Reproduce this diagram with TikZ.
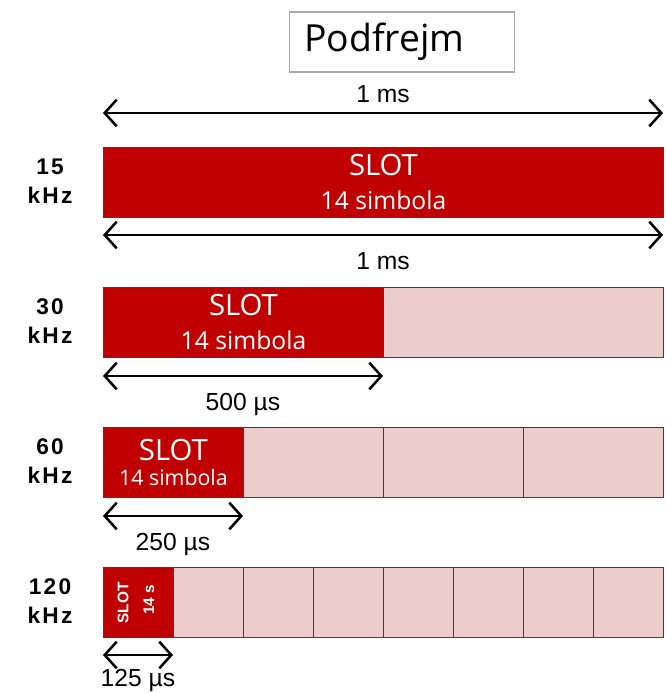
\documentclass[tikz,border=0pt]{standalone}
\usepackage{fontspec}
\setmainfont{Liberation Sans}
\newfontfamily\slotfont{Open Sans}
\usetikzlibrary{arrows.meta}
\definecolor{slot_red}{RGB}{192,0,0}
\definecolor{cell_pink}{RGB}{237,204,204}
\definecolor{frame_gray}{RGB}{170,170,170}

\tikzset{
    slotbox/.style={draw=black!75, fill=slot_red, line width=0.7pt, anchor=north west,
        inner sep=0pt, minimum height=52.5pt, text=white, align=center},
    cellbox/.style={draw=black!75, fill=cell_pink, line width=0.7pt, anchor=north west,
        inner sep=0pt, minimum height=52.5pt, minimum width=52.5pt},
    spanarrow/.style={{Straight Barb[length=9pt,width=20pt]}-{Straight Barb[length=9pt,width=20pt]},
        line width=1.9pt},
    freq/.style={font=\bfseries\fontsize{17}{21.75}\selectfont\addfontfeature{LetterSpace=10}, align=center},
    dur/.style={font=\fontsize{18.5}{20}\selectfont},
    slotbig/.style={font=\slotfont\fontsize{22}{25.5}\selectfont},
}

\begin{document}
\begin{tikzpicture}[x=0.75pt, y=-0.75pt]
    \useasboundingbox (0,0) rectangle (666,693);

    % Title
    \node[draw=frame_gray, line width=1pt, minimum height=45pt, inner xsep=11pt,
        text width=146.75pt, align=left,
        font=\slotfont\fontsize{28}{30}\selectfont] (title) at (402,42) {Podfrejm};

    % Subframe length
    \coordinate (top_l) at (103,113);
    \coordinate (top_r) at (663,113);
    \draw[spanarrow] (top_l) -- node[above=3.5pt, dur] (top_lbl) {1 ms} (top_r);

    % 15 kHz
    \node[freq] (f15) at (50,181) {15\\kHz};
    \node[slotbox, slotbig, minimum width=420pt] (s15) at (103,147)
        {SLOT\\{\fontsize{18.5}{20}\selectfont 14 simbola}};
    \coordinate (a15_l) at (103,235);
    \coordinate (a15_r) at (663,235);
    \draw[spanarrow] (a15_l) -- node[below=9pt, dur] (l15) {1 ms} (a15_r);

    % 30 kHz
    \node[freq] (f30) at (50,321) {30\\kHz};
    \node[cellbox, minimum width=210pt] (c30) at (383,287) {};
    \node[slotbox, slotbig, minimum width=210pt] (s30) at (103,287)
        {SLOT\\{\fontsize{18.5}{20}\selectfont 14 simbola}};
    \coordinate (a30_l) at (103,376);
    \coordinate (a30_r) at (383,376);
    \draw[spanarrow] (a30_l) -- node[below=9pt, dur] (l30) {500 µs} (a30_r);

    % 60 kHz
    \node[freq] (f60) at (50,461) {60\\kHz};
    \foreach \cx in {243,383,523}
        \node[cellbox, minimum width=105pt] (c60-\cx) at (\cx,427) {};
    \node[slotbox, minimum width=105pt, font=\slotfont\fontsize{22}{19}\selectfont] (s60) at (103,427)
        {SLOT\\{\fontsize{16}{17}\selectfont 14 simbola}};
    \coordinate (a60_l) at (103,516);
    \coordinate (a60_r) at (243,516);
    \draw[spanarrow] (a60_l) -- node[below=9pt, dur] (l60) {250 µs} (a60_r);

    % 120 kHz
    \node[freq] (f120) at (50,601) {120\\kHz};
    \foreach \cx in {173,243,313,383,453,523,593}
        \node[cellbox] (c120-\cx) at (\cx,567) {};
    \node[slotbox, minimum width=52.5pt] (s120) at (103,567) {};
    \node[rotate=90, text=white, font=\bfseries\fontsize{11.5}{12}\selectfont] (s120a) at (123,603) {SLOT};
    \node[rotate=90, text=white, font=\bfseries\fontsize{11.5}{12}\selectfont] (s120b) at (149,600) {14 s};
    \coordinate (a120_l) at (103,655);
    \coordinate (a120_r) at (173,655);
    \draw[spanarrow] (a120_l) -- node[below=6.5pt, dur] (l120) {125 µs} (a120_r);
\end{tikzpicture}
\end{document}
